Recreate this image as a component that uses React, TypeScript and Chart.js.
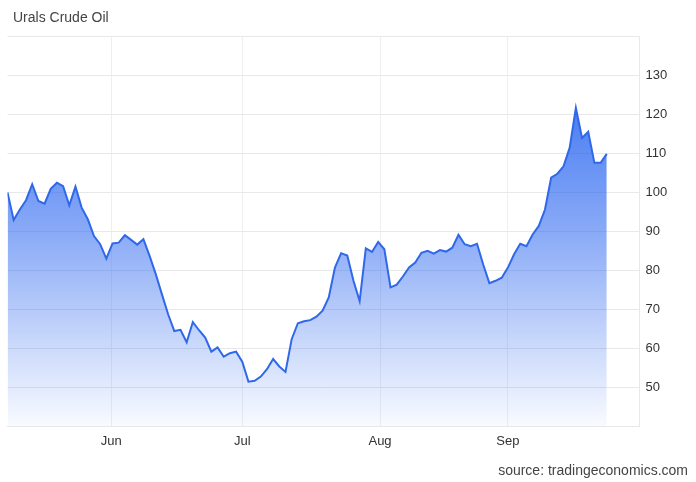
import React, { useEffect, useRef } from 'react';
import { Chart, registerables } from 'chart.js';

Chart.register(...registerables);

const titleText = 'Urals Crude Oil';
const sourceText = 'source: tradingeconomics.com';

const monthLabels = ['Jun', 'Jul', 'Aug', 'Sep'];
// position of the month start, expressed in trading-day index of the series
const monthIndex = [16.8, 38.0, 60.3, 81.0];

const prices = [
  100.0, 92.9, 95.6, 98.0, 102.1, 97.8, 97.1, 100.9, 102.5, 101.6,
  96.7, 101.5, 96.1, 93.1, 88.8, 86.7, 83.0, 86.9, 87.1, 89.0,
  87.8, 86.6, 88.0, 83.7, 79.0, 73.8, 68.7, 64.4, 64.7, 61.5,
  66.7, 64.6, 62.7, 59.1, 60.2, 57.8, 58.7, 59.1, 56.5, 51.4,
  51.6, 52.7, 54.6, 57.2, 55.3, 53.9, 62.3, 66.4, 66.9, 67.2,
  68.1, 69.6, 73.0, 80.7, 84.4, 83.8, 77.3, 72.1, 85.6, 84.7,
  87.3, 85.4, 75.6, 76.3, 78.4, 80.7, 82.0, 84.5, 85.0, 84.3,
  85.2, 84.8, 85.8, 89.1, 86.7, 86.2, 86.8, 81.5, 76.7, 77.3,
  78.1, 80.7, 84.1, 86.8, 86.2, 89.2, 91.4, 95.6, 103.8, 104.8,
  106.7, 111.5, 121.7, 114.0, 115.6, 107.6, 107.6, 109.9,
];

const yMin = 40;
const yMax = 140;
const yStep = 10;
const xMax = 102.3;

const lineColor = '#2f68e8';
const gridColor = '#e8e8e8';
const vGridColor = '#efefef';
const textColor = '#333333';
const fontFamily = '"Liberation Sans", Arial, sans-serif';

export default function App() {
  const canvasRef = useRef<HTMLCanvasElement>(null);

  useEffect(() => {
    document.body.style.margin = '0';
    const canvas = canvasRef.current;
    if (!canvas) return;
    const chart = new Chart(canvas, {
      type: 'line',
      data: {
        datasets: [
          {
            data: prices.map((v, i) => ({ x: i, y: v })),
            borderColor: lineColor,
            borderWidth: 2,
            pointRadius: 0,
            tension: 0,
            fill: 'start',
            backgroundColor: (c: any) => {
              const { ctx, chartArea } = c.chart;
              if (!chartArea) return 'rgba(47,104,232,0.5)';
              const g = ctx.createLinearGradient(0, chartArea.top, 0, chartArea.bottom);
              g.addColorStop(0, 'rgba(40,100,240,1)');
              g.addColorStop(0.5, 'rgba(40,100,240,0.55)');
              g.addColorStop(1, 'rgba(40,100,240,0.03)');
              return g;
            },
          },
        ],
      },
      options: {
        responsive: false,
        animation: false,
        devicePixelRatio: 1,
        layout: { padding: { top: 36.7, left: 7.5, right: 0, bottom: 0 } },
        plugins: {
          legend: { display: false },
          tooltip: { enabled: false },
          title: { display: false },
        },
        scales: {
          x: {
            type: 'linear',
            min: 0,
            max: xMax,
            afterBuildTicks: (s: any) => {
              s.ticks = monthIndex.map((v) => ({ value: v }));
            },
            afterFit: (s: any) => {
              s.height = 482 - 426;
            },
            ticks: {
              autoSkip: false,
              maxRotation: 0,
              padding: 8,
              color: textColor,
              font: { family: fontFamily, size: 13 },
              callback: (_v: any, i: number) => monthLabels[i],
            },
            grid: { color: vGridColor, drawTicks: false },
            border: { display: true, color: gridColor },
          },
          y: {
            position: 'right',
            min: yMin,
            max: yMax,
            afterFit: (s: any) => {
              s.width = 56.5;
            },
            ticks: {
              stepSize: yStep,
              padding: 6,
              color: textColor,
              font: { family: fontFamily, size: 13 },
              callback: (v: any) => (v === yMin || v === yMax ? '' : String(v)),
            },
            grid: { color: gridColor, drawTicks: false },
            border: { display: true, color: gridColor },
          },
        },
      },
    });
    return () => chart.destroy();
  }, []);

  return (
    <div style={{ position: 'relative', width: 696, height: 482, background: '#fff' }}>
      <canvas ref={canvasRef} width={696} height={482} style={{ position: 'absolute', left: 0, top: 0 }} />
      <div
        style={{
          position: 'absolute',
          left: 13,
          top: 8,
          fontFamily,
          fontSize: 14,
          lineHeight: '18px',
          color: '#444',
        }}
      >
        {titleText}
      </div>
      <div
        style={{
          position: 'absolute',
          right: 8,
          top: 461,
          fontFamily,
          fontSize: 14,
          lineHeight: '18px',
          color: '#444',
        }}
      >
        {sourceText}
      </div>
    </div>
  );
}
